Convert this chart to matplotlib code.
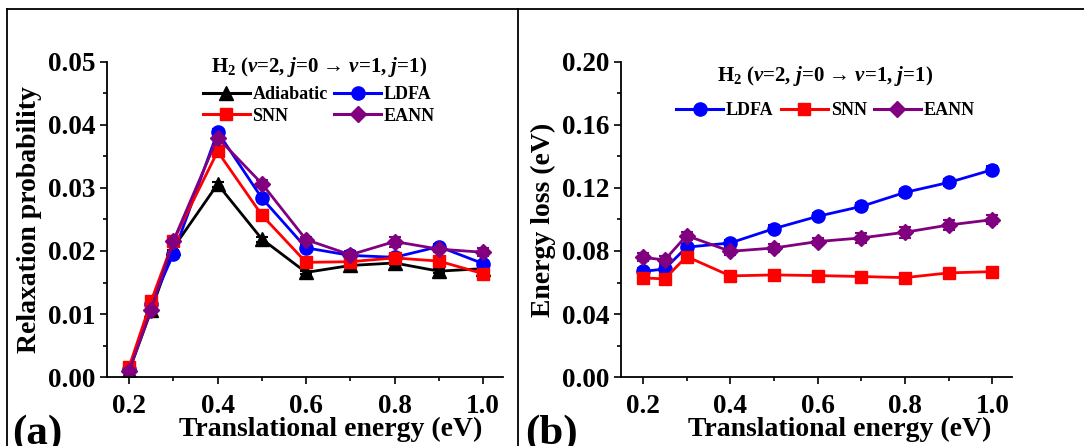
import matplotlib
matplotlib.use('Agg')
import matplotlib.pyplot as plt
from matplotlib.lines import Line2D
from matplotlib.ticker import MultipleLocator

plt.rcParams['font.family'] = ['Liberation Serif', 'DejaVu Serif']
plt.rcParams['font.weight'] = 'bold'
plt.rcParams['mathtext.fontset'] = 'custom'
plt.rcParams['mathtext.rm'] = 'Liberation Serif:bold'
plt.rcParams['mathtext.it'] = 'Liberation Serif:bold:italic'
plt.rcParams['mathtext.bf'] = 'Liberation Serif:bold'

# translational energy (eV)
energy = [0.2, 0.25, 0.3, 0.4, 0.5, 0.6, 0.7, 0.8, 0.9, 1.0]

# (a) relaxation probability
prob_adiabatic = [0.0010, 0.0106, 0.0205, 0.0306, 0.0219, 0.0166, 0.0177, 0.0181, 0.0168, 0.0172]
prob_ldfa = [0.0012, 0.0116, 0.0195, 0.0389, 0.0284, 0.0205, 0.0193, 0.0190, 0.0207, 0.0180]
prob_snn = [0.0016, 0.0121, 0.0216, 0.0358, 0.0257, 0.0182, 0.0183, 0.0189, 0.0184, 0.0164]
prob_eann = [0.0010, 0.0107, 0.0216, 0.0380, 0.0307, 0.0218, 0.0194, 0.0215, 0.0203, 0.0198]
prob_err_adiabatic = [0.0003, 0.0003, 0.0003, 0.0004, 0.0004, 0.0003, 0.0003, 0.0003, 0.0003, 0.0003]
prob_err_ldfa = [0.0003, 0.0003, 0.0003, 0.0004, 0.0004, 0.0004, 0.0004, 0.0004, 0.0004, 0.0004]
prob_err_snn = [0.0003, 0.0003, 0.0003, 0.0004, 0.0004, 0.0003, 0.0003, 0.0003, 0.0003, 0.0003]
prob_err_eann = [0.0003, 0.0003, 0.0004, 0.0004, 0.0005, 0.0005, 0.0006, 0.0008, 0.0005, 0.0006]

# (b) energy loss (eV)
loss_ldfa = [0.0670, 0.0686, 0.0824, 0.0851, 0.0942, 0.1020, 0.1083, 0.1172, 0.1235, 0.1316]
loss_snn = [0.0629, 0.0623, 0.0765, 0.0642, 0.0648, 0.0644, 0.0638, 0.0631, 0.0661, 0.0669]
loss_eann = [0.0760, 0.0743, 0.0898, 0.0798, 0.0819, 0.0860, 0.0883, 0.0919, 0.0965, 0.0999]
loss_err_ldfa = [0.0020, 0.0020, 0.0020, 0.0020, 0.0020, 0.0020, 0.0020, 0.0020, 0.0020, 0.0025]
loss_err_snn = [0.0020, 0.0020, 0.0020, 0.0015, 0.0015, 0.0015, 0.0015, 0.0015, 0.0015, 0.0015]
loss_err_eann = [0.0025, 0.0025, 0.0025, 0.0025, 0.0025, 0.0025, 0.0030, 0.0035, 0.0030, 0.0030]

title = r'H$_2$ ($v$=2, $j$=0 → $v$=1, $j$=1)'

fig = plt.figure(figsize=(10.84, 4.46), dpi=100)
ax1 = fig.add_axes([0.0987, 0.1547, 0.3653, 0.7063])
ax2 = fig.add_axes([0.5729, 0.1547, 0.3607, 0.7063])


def series(ax, y, err, color, marker, label, ms=9.5):
    ax.errorbar(energy, y, yerr=err, color=color, marker=marker, ms=ms,
                lw=2, capsize=4, elinewidth=1.5, capthick=1.5, label=label)


def style(ax, ymax, ystep, xlab_x):
    ax.set_xlim(0.15, 1.045)
    ax.set_ylim(0, ymax)
    ax.spines['top'].set_visible(False)
    ax.spines['right'].set_visible(False)
    for s in ('left', 'bottom'):
        ax.spines[s].set_linewidth(1.3)
    ax.xaxis.set_major_locator(MultipleLocator(0.2))
    ax.xaxis.set_minor_locator(MultipleLocator(0.1))
    ax.yaxis.set_major_locator(MultipleLocator(ystep))
    ax.yaxis.set_minor_locator(MultipleLocator(ystep / 2))
    ax.tick_params(which='major', length=5, width=1.2, labelsize=19.5, direction='out')
    ax.tick_params(axis='x', which='major', pad=7)
    ax.tick_params(which='minor', length=3, width=1.2, direction='out')
    ax.yaxis.set_major_formatter(plt.FormatStrFormatter('%.2f'))
    ax.xaxis.set_major_formatter(plt.FormatStrFormatter('%.1f'))
    ax.set_xlabel('Translational energy (eV)', fontsize=20, fontweight='bold')
    ax.xaxis.set_label_coords(xlab_x, -0.125)


# panel (a)
series(ax1, prob_adiabatic, prob_err_adiabatic, 'black', '^', 'Adiabatic')
series(ax1, prob_ldfa, prob_err_ldfa, 'blue', 'o', 'LDFA')
series(ax1, prob_snn, prob_err_snn, 'red', 's', 'SNN', ms=8.5)
series(ax1, prob_eann, prob_err_eann, 'purple', 'D', 'EANN', ms=8.5)
style(ax1, 0.05, 0.01, 0.565)
ax1.set_ylabel('Relaxation probability', fontsize=20, fontweight='bold', labelpad=4)
ax1.text(0.535, 0.985, title, transform=ax1.transAxes, ha='center', va='center', fontsize=15)
h = [Line2D([], [], color='black', marker='^', ms=9.5, lw=2.2),
     Line2D([], [], color='red', marker='s', ms=8.5, lw=2.2),
     Line2D([], [], color='blue', marker='o', ms=9.5, lw=2.2),
     Line2D([], [], color='purple', marker='D', ms=8.5, lw=2.2)]
ax1.legend(h, ['Adiabatic', 'SNN', 'LDFA', 'EANN'], ncol=2, frameon=False,
           loc='upper center', bbox_to_anchor=(0.535, 0.975), fontsize=13,
           handlelength=2.6, handletextpad=0.15, columnspacing=0.35, labelspacing=0.25)

# panel (b)
series(ax2, loss_ldfa, loss_err_ldfa, 'blue', 'o', 'LDFA')
series(ax2, loss_snn, loss_err_snn, 'red', 's', 'SNN', ms=8.5)
series(ax2, loss_eann, loss_err_eann, 'purple', 'D', 'EANN', ms=8.5)
style(ax2, 0.20, 0.04, 0.56)
ax2.set_ylabel('Energy loss (eV)', fontsize=20, fontweight='bold', labelpad=4)
ax2.text(0.523, 0.955, title, transform=ax2.transAxes, ha='center', va='center', fontsize=15)
h2 = [Line2D([], [], color='blue', marker='o', ms=9.5, lw=2.2),
      Line2D([], [], color='red', marker='s', ms=8.5, lw=2.2),
      Line2D([], [], color='purple', marker='D', ms=8.5, lw=2.2)]
ax2.legend(h2, ['LDFA', 'SNN', 'EANN'], ncol=3, frameon=False,
           loc='upper center', bbox_to_anchor=(0.523, 0.925), fontsize=13,
           handlelength=2.6, handletextpad=0.15, columnspacing=0.4)

# panel labels
fig.text(0.011, -0.015, '(a)', fontsize=31, fontweight='bold', ha='left', va='bottom')
fig.text(0.484, -0.015, '(b)', fontsize=31, fontweight='bold', ha='left', va='bottom')

# frame lines
lw = 1.3
fig.add_artist(Line2D([7 / 1084, 1], [1 - 9 / 446, 1 - 9 / 446], color='black', lw=lw))
fig.add_artist(Line2D([7 / 1084, 7 / 1084], [0, 1 - 9 / 446], color='black', lw=lw))
fig.add_artist(Line2D([518 / 1084, 518 / 1084], [0, 1 - 9 / 446], color='black', lw=lw))

fig.savefig('out.png', dpi=100)
